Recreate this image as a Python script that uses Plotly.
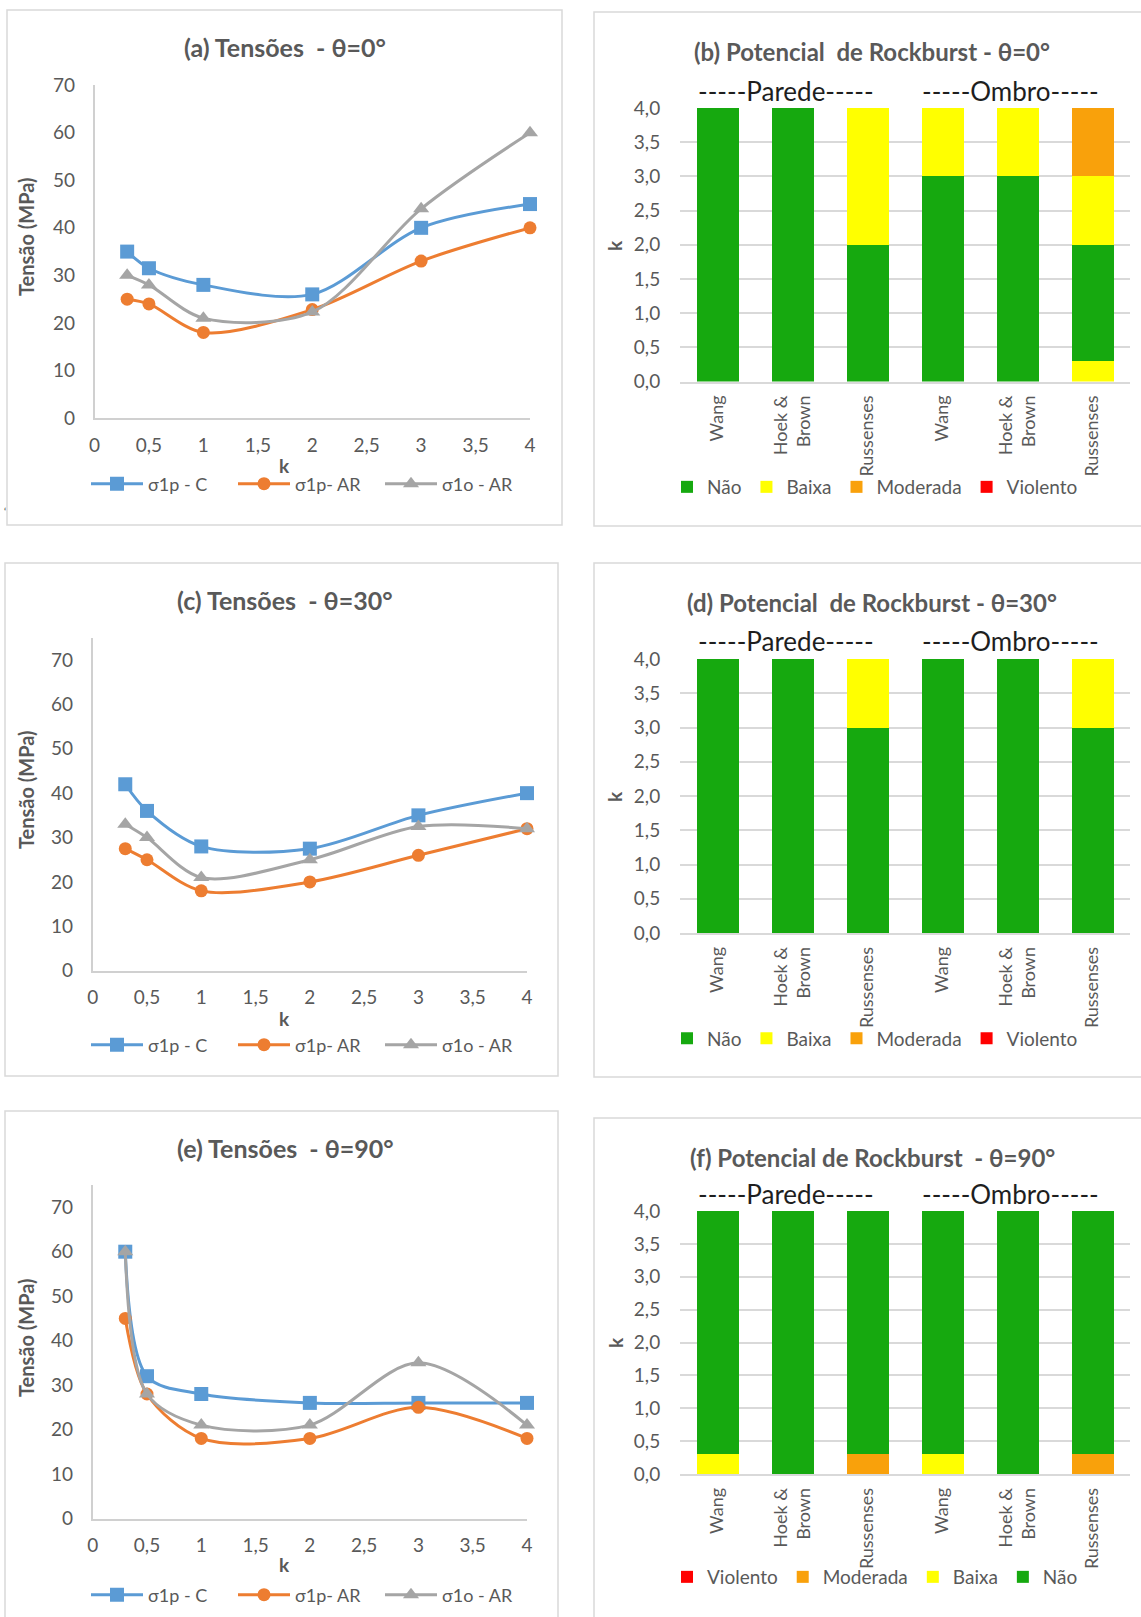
import plotly.graph_objects as go

# ---------------- data ----------------
k_values = [0.3, 0.5, 1, 2, 3, 4]
series_names = ["σ1p - C", "σ1p- AR", "σ1o - AR"]

a_s1p_C = [35, 31.5, 28, 26, 40, 45]
a_s1p_AR = [25, 24, 18, 22.8, 33, 40]
a_s1o_AR = [30, 28, 21, 22.3, 44, 60]

c_s1p_C = [42, 36, 28, 27.5, 35, 40]
c_s1p_AR = [27.5, 25, 18, 20, 26, 32]
c_s1o_AR = [33, 30, 21, 25, 32.5, 32]

e_s1p_C = [60, 32, 28, 26, 26, 26]
e_s1p_AR = [45, 28, 18, 18, 25, 18]
e_s1o_AR = [60, 28, 21, 21, 35, 21]

methods = ["Wang", "Hoek &<br>Brown", "Russenses", "Wang", "Hoek &<br>Brown", "Russenses"]
levels = ["Não", "Baixa", "Moderada", "Violento"]

# stacked segments (bottom -> top) for each method column
b_levels = [["Não"], ["Não"], ["Não", "Baixa"], ["Não", "Baixa"], ["Não", "Baixa"],
            ["Baixa", "Não", "Baixa", "Moderada"]]
b_heights = [[4.0], [4.0], [2.0, 2.0], [3.0, 1.0], [3.0, 1.0], [0.3, 1.7, 1.0, 1.0]]

d_levels = [["Não"], ["Não"], ["Não", "Baixa"], ["Não"], ["Não"], ["Não", "Baixa"]]
d_heights = [[4.0], [4.0], [3.0, 1.0], [4.0], [4.0], [3.0, 1.0]]

f_levels = [["Baixa", "Não"], ["Não"], ["Moderada", "Não"], ["Baixa", "Não"], ["Não"],
            ["Moderada", "Não"]]
f_heights = [[0.3, 3.7], [4.0], [0.3, 3.7], [0.3, 3.7], [4.0], [0.3, 3.7]]

# ---------------- styling ----------------
W, H = 1141, 1617
FONT = "Lato"
GRAY_TXT = "#595959"
AXIS_GRAY = "#D0D0D0"
GRID_GRAY = "#D9D9D9"
line_colors = ["#5B9BD5", "#ED7D31", "#A5A5A5"]
line_symbols = ["square", "circle", "triangle-up"]
line_msize = [14, 13, 14]
level_colors = {"Não": "#16A90F", "Baixa": "#FFFF00", "Moderada": "#F9A10B", "Violento": "#FF0000"}


def px(x):
    return x / W


def py(y):
    return 1 - y / H


def ann(text, x, y, size, color=GRAY_TXT, angle=0):
    return dict(text=text, x=px(x), y=py(y), xref="paper", yref="paper", showarrow=False,
                xanchor="center", yanchor="middle", textangle=angle,
                font=dict(family=FONT, size=size, color=color))


fig = go.Figure()

# ---------------- line panels ----------------
line_panels = [
    dict(ax="", data=[a_s1p_C, a_s1p_AR, a_s1o_AR], leg="legend",
         xd=(94.5, 530), yd=(418, 85.2), ymax=70,
         title="(a) Tensões  - θ=0°", ty=47, legy=484, ky=465, ytc=237,
         frame=(7, 10, 562, 525)),
    dict(ax="3", data=[c_s1p_C, c_s1p_AR, c_s1o_AR], leg="legend3",
         xd=(92.7, 527), yd=(970.8, 637.7), ymax=75,
         title="(c) Tensões  - θ=30°", ty=600, legy=1045, ky=1018, ytc=790,
         frame=(5, 563, 558, 1076)),
    dict(ax="5", data=[e_s1p_C, e_s1p_AR, e_s1o_AR], leg="legend5",
         xd=(92.7, 527), yd=(1518.5, 1185), ymax=75,
         title="(e) Tensões  - θ=90°", ty=1148, legy=1595, ky=1564, ytc=1338,
         frame=(5, 1111, 558, 1625)),
]

annotations = []
shapes = []
layout_axes = {}
legends = {}

for p in line_panels:
    ax = p["ax"]
    for i, vals in enumerate(p["data"]):
        fig.add_trace(go.Scatter(
            x=k_values, y=vals, name=series_names[i], mode="lines+markers",
            line=dict(color=line_colors[i], width=3, shape="spline", smoothing=0.9),
            marker=dict(symbol=line_symbols[i], size=line_msize[i], color=line_colors[i]),
            cliponaxis=False, xaxis="x" + ax, yaxis="y" + ax, legend=p["leg"]))
    layout_axes["xaxis" + ax] = dict(
        domain=[px(p["xd"][0]), px(p["xd"][1])], range=[0, 4], dtick=0.5, tick0=0,
        anchor="y" + ax, showgrid=False, zeroline=False, showline=True,
        linecolor=AXIS_GRAY, linewidth=1.5, ticks="outside", ticklen=9,
        tickcolor="rgba(0,0,0,0)", tickfont=dict(family=FONT, size=19, color=GRAY_TXT),
        fixedrange=True)
    layout_axes["yaxis" + ax] = dict(
        domain=[py(p["yd"][0]), py(p["yd"][1])], range=[0, p["ymax"]],
        tickvals=[0, 10, 20, 30, 40, 50, 60, 70],
        anchor="x" + ax, showgrid=False, zeroline=False, showline=True,
        linecolor=AXIS_GRAY, linewidth=1.5, ticks="outside", ticklen=14,
        tickcolor="rgba(0,0,0,0)", tickfont=dict(family=FONT, size=19, color=GRAY_TXT),
        fixedrange=True)
    legends[p["leg"]] = dict(
        orientation="h", x=px(86), xanchor="left", y=py(p["legy"]), yanchor="middle",
        font=dict(family=FONT, size=18, color=GRAY_TXT), bgcolor="rgba(0,0,0,0)",
        itemwidth=52, entrywidth=80, entrywidthmode="pixels",
        tracegroupgap=0, traceorder="normal")
    annotations.append(ann("<b>" + p["title"] + "</b>", 285, p["ty"], 25))
    annotations.append(ann("<b>k</b>", 284, p["ky"], 19))
    annotations.append(ann("<b>Tensão (MPa)</b>", 26, p["ytc"], 20, angle=-90))
    x0, y0, x1, y1 = p["frame"]
    shapes.append(dict(type="rect", xref="paper", yref="paper", x0=px(x0), x1=px(x1),
                       y0=py(y1), y1=py(y0), line=dict(color=GRID_GRAY, width=1.5),
                       layer="below"))

# ---------------- bar panels ----------------
bar_panels = [
    dict(ax="2", lv=b_levels, hs=b_heights, leg="legend2", yd=(381.5, 108),
         title="(b) Potencial  de Rockburst - θ=0°", ty=51.5, grp=90.6, legy=487,
         order=levels, kyc=245, frame=(594, 12, 1150, 526)),
    dict(ax="4", lv=d_levels, hs=d_heights, leg="legend4", yd=(933, 659),
         title="(d) Potencial  de Rockburst - θ=30°", ty=602.4, grp=641, legy=1038.5,
         order=levels, kyc=796, frame=(594, 563, 1150, 1077)),
    dict(ax="6", lv=f_levels, hs=f_heights, leg="legend6", yd=(1474, 1211),
         title="(f) Potencial de Rockburst  - θ=90°", ty=1157.7, grp=1194, legy=1577,
         order=levels[::-1], kyc=1342, frame=(594, 1118, 1150, 1625)),
]

for p in bar_panels:
    ax = p["ax"]
    n_layers = max(len(h) for h in p["hs"])
    for li in range(n_layers):
        yv = [h[li] if li < len(h) else 0 for h in p["hs"]]
        cols = [level_colors[l[li]] if li < len(l) else "rgba(0,0,0,0)" for l in p["lv"]]
        fig.add_trace(go.Bar(
            x=list(range(len(methods))), y=yv, marker=dict(color=cols, line=dict(width=0)),
            width=0.56, showlegend=False, xaxis="x" + ax, yaxis="y" + ax,
            hoverinfo="skip"))
    for lvl in p["order"]:
        fig.add_trace(go.Scatter(
            x=[None], y=[None], mode="markers", name=lvl,
            marker=dict(symbol="square", size=12, color=level_colors[lvl]),
            xaxis="x" + ax, yaxis="y" + ax, legend=p["leg"]))
    layout_axes["xaxis" + ax] = dict(
        domain=[px(680), px(1130)], range=[-0.5, 5.5], anchor="y" + ax,
        tickvals=list(range(len(methods))), ticktext=methods, tickangle=-90,
        showgrid=False, zeroline=False, showline=True, linecolor=GRID_GRAY, linewidth=1.5,
        ticks="outside", ticklen=5, tickcolor="rgba(0,0,0,0)",
        tickfont=dict(family=FONT, size=18, color=GRAY_TXT), fixedrange=True)
    layout_axes["yaxis" + ax] = dict(
        domain=[py(p["yd"][0]), py(p["yd"][1])], range=[0, 4.0], dtick=0.5, tick0=0,
        tickformat=".1f", anchor="x" + ax, showgrid=True, gridcolor=GRID_GRAY, gridwidth=1.5,
        zeroline=False, showline=False, ticks="outside", ticklen=15,
        tickcolor="rgba(0,0,0,0)", tickfont=dict(family=FONT, size=19, color=GRAY_TXT),
        fixedrange=True)
    legends[p["leg"]] = dict(
        orientation="h", x=px(667), xanchor="left", y=py(p["legy"]), yanchor="middle",
        font=dict(family=FONT, size=19, color=GRAY_TXT), bgcolor="rgba(0,0,0,0)",
        itemwidth=30, tracegroupgap=0, traceorder="normal")
    annotations.append(ann("<b>" + p["title"] + "</b>", 872, p["ty"], 24))
    annotations.append(ann("-----Parede-----", 786, p["grp"], 26, color="#1E1E1E"))
    annotations.append(ann("-----Ombro-----", 1010, p["grp"], 26, color="#1E1E1E"))
    annotations.append(ann("<b>k</b>", 615, p["kyc"], 19, angle=-90))
    x0, y0, x1, y1 = p["frame"]
    shapes.append(dict(type="rect", xref="paper", yref="paper", x0=px(x0), x1=px(x1),
                       y0=py(y1), y1=py(y0), line=dict(color=GRID_GRAY, width=1.5),
                       layer="below"))

annotations.append(ann("‘", 5, 511, 10, color="#333"))

fig.update_layout(
    width=W, height=H, margin=dict(l=0, r=0, t=0, b=0, autoexpand=False),
    paper_bgcolor="white", plot_bgcolor="rgba(0,0,0,0)",
    barmode="stack", separators=", ", font=dict(family=FONT, color=GRAY_TXT),
    annotations=annotations, shapes=shapes, hovermode=False,
    **layout_axes, **legends)

fig.write_html("out.html", config={"displayModeBar": False},
               post_script="document.body.style.margin='0px';")
